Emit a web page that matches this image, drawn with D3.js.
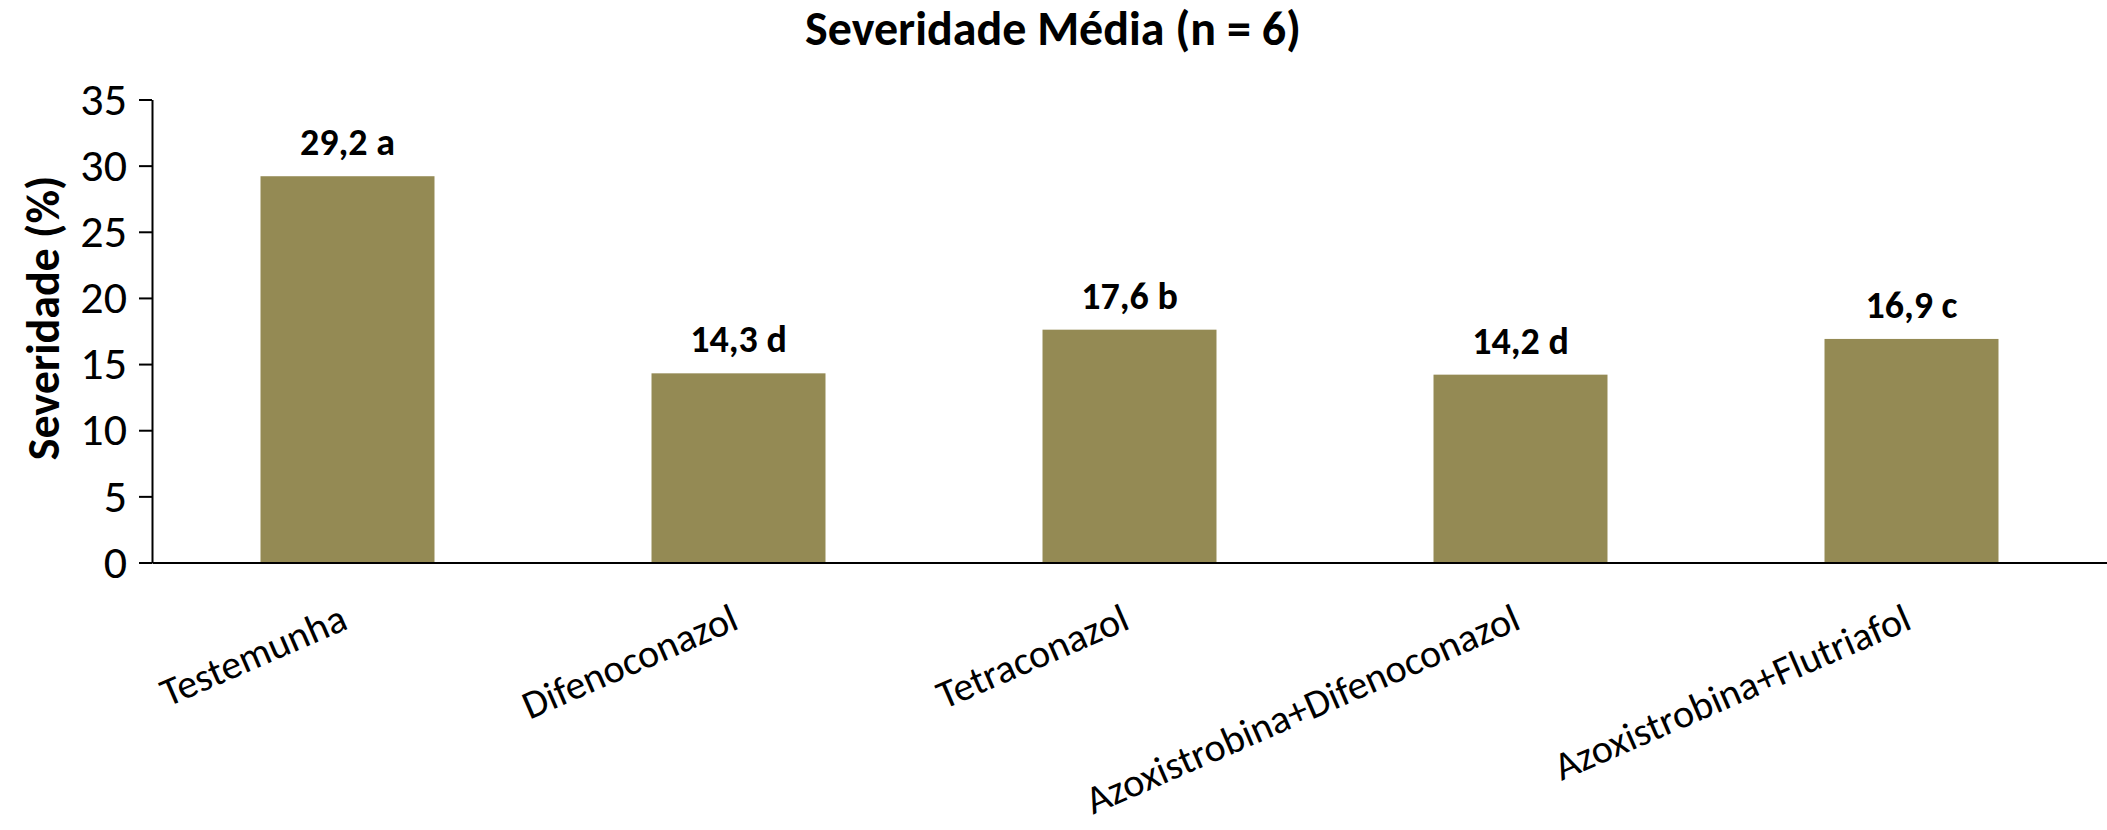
<!DOCTYPE html>
<html lang="pt">
<head>
<meta charset="utf-8">
<style>
  body { margin: 0; background: white; }
  svg { background: white; display: block; }
  text { font-family: Carlito, Calibri, Lato, sans-serif; fill: black; }
  .axis path, .axis line { stroke: black; stroke-width: 2px; }
  .axis text { font-size: 46px; }
  .bar { fill: #948a54; }
  .lbl { font-size: 38px; font-weight: bold; }
  .cat { font-size: 40px; }
</style>
<script src="https://d3js.org/d3.v7.min.js"></script>
</head>
<body>
<script>
// data
var categories = ["Testemunha", "Difenoconazol", "Tetraconazol", "Azoxistrobina+Difenoconazol", "Azoxistrobina+Flutriafol"];
var values = [29.2, 14.3, 17.6, 14.2, 16.9];
var letters = ["a", "d", "b", "d", "c"];
var yTicks = [0, 5, 10, 15, 20, 25, 30, 35];

var width = 2107,
    height = 830;

var svg = d3.select("body").append("svg")
    .attr("width", width)
    .attr("height", height);

var x = d3.scaleBand()
    .domain(categories)
    .range([152, 2107])
    .paddingInner(0.555)
    .paddingOuter(0.2775);

var y = d3.scaleLinear()
    .domain([0, 35])
    .range([562.5, 99.5]);

// bars
svg.selectAll(".bar")
    .data(values)
    .enter().append("rect")
    .attr("class", "bar")
    .attr("x", function(d, i) { return x(categories[i]); })
    .attr("y", function(d) { return y(d); })
    .attr("width", x.bandwidth())
    .attr("height", function(d) { return y(0) - y(d); });

// value labels
svg.selectAll(".lbl")
    .data(values)
    .enter().append("text")
    .attr("class", "lbl")
    .attr("text-anchor", "middle")
    .attr("x", function(d, i) { return x(categories[i]) + x.bandwidth() / 2; })
    .attr("y", function(d) { return y(d) - 21; })
    .text(function(d, i) { return d.toFixed(1).replace(".", ",") + " " + letters[i]; });

// y axis
svg.append("g")
    .attr("class", "axis")
    .attr("transform", "translate(152,0)")
    .call(d3.axisLeft(y).tickValues(yTicks).tickSize(13).tickSizeOuter(0).tickPadding(12));

// x axis (line only)
svg.append("g")
    .attr("class", "axis")
    .attr("transform", "translate(0," + y(0) + ")")
    .call(d3.axisBottom(x).tickSize(0).tickSizeOuter(0).tickFormat(""));

// category labels, rotated
svg.selectAll(".cat")
    .data(categories)
    .enter().append("text")
    .attr("class", "cat")
    .attr("text-anchor", "end")
    .attr("transform", function(d) {
        return "translate(" + (x(d) + x.bandwidth() / 2 + 2) + ",628) rotate(-23.5)";
    })
    .text(function(d) { return d; });

// titles
svg.append("text")
    .attr("x", 1053)
    .attr("y", 45)
    .attr("text-anchor", "middle")
    .style("font-size", "48px")
    .style("font-weight", "bold")
    .text("Severidade Média (n = 6)");

svg.append("text")
    .attr("transform", "translate(59,318) rotate(-90)")
    .attr("text-anchor", "middle")
    .style("font-size", "46px")
    .style("font-weight", "bold")
    .text("Severidade (%)");
</script>
</body>
</html>
